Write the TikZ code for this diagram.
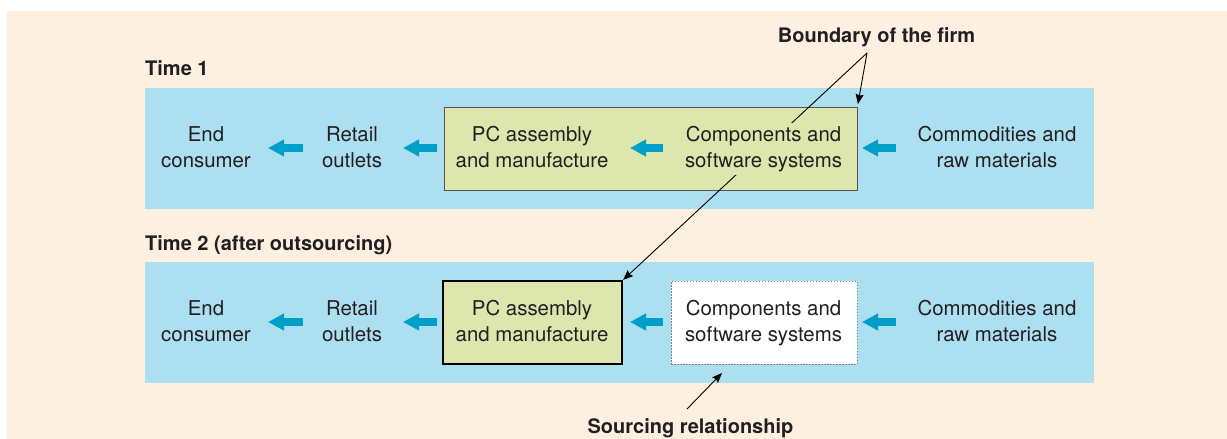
\documentclass[tikz,border=0pt]{standalone}
\usepackage{fontspec}
\setmainfont{TeX Gyre Heros}
\usetikzlibrary{arrows.meta,calc}
\definecolor{bgbeige}{RGB}{253,240,224}
\definecolor{bandblue}{RGB}{172,223,240}
\definecolor{boxgreen}{RGB}{221,231,173}
\definecolor{arrowblue}{RGB}{0,159,201}
\definecolor{txt}{RGB}{35,31,32}
\definecolor{boxline}{RGB}{85,85,85}
\newcommand\twoline[2]{\strut #1\\\strut #2}
\begin{document}
\begin{tikzpicture}[x=1pt,y=-1pt,
  lbl/.style={font=\fontsize{20.4}{26}\selectfont, align=center, inner sep=0pt, text=txt},
  ttl/.style={font=\fontsize{20}{24}\selectfont\bfseries, inner sep=0pt, text=txt},
  band/.style={fill=bandblue, draw=none, inner sep=0pt, minimum width=949pt, minimum height=121pt},
  firmbox/.style={fill=boxgreen, draw=boxline, line width=0.9pt, inner sep=0pt, minimum height=83pt},
  pcbox/.style={fill=boxgreen, draw=black, line width=1.5pt, inner sep=0pt, minimum width=179pt, minimum height=83pt},
  srcbox/.style={fill=white, draw=gray, line width=1pt, dash pattern=on 1.5pt off 1.5pt, inner sep=0pt, minimum width=186pt, minimum height=83pt},
  barrow/.style={draw=arrowblue, line width=7.5pt, -{Triangle[length=16pt,width=16pt]}, arrowblue},
  leader/.style={draw=black, line width=0.9pt, -{Stealth[length=10pt,width=8pt,inset=1.5pt]}}
]
\useasboundingbox (0,0) rectangle (1227,439);
\fill[bgbeige] (7,11) rectangle (1227,439);

% bands
\node[band] (band1) at (619.5,148.5) {};
\node[band] (band2) at (619.5,322.5) {};

% boxes
\node[firmbox, minimum width=413pt] (firm1) at (650.5,148.5) {};
\node[pcbox] (pc2box) at (532.5,322.5) {};
\node[srcbox] (comp2box) at (764,322.5) {};

% leader lines
\coordinate (bf) at (867,53);
\coordinate (sr) at (687,409);
\coordinate (srt) at (722,373);
\draw[leader, shorten >=2.5pt] (bf) -- (firm1.north east);
\draw[leader, shorten >=0.5pt] (bf) -- (pc2box.north east);
\draw[leader] (sr) -- (srt);

% texts time 1
\node[lbl] (end1) at (206,148.8) {\twoline{End}{consumer}};
\node[lbl] (ret1) at (352,148.8) {\twoline{Retail}{outlets}};
\node[lbl] (pc1) at (532,148.8) {\twoline{PC assembly}{and manufacture}};
\node[lbl, fill=boxgreen] (comp1) at (763.5,148.8) {\twoline{Components and}{software systems}};
\node[lbl] (raw1) at (997,148.8) {\twoline{Commodities and}{raw materials}};

% texts time 2
\node[lbl] (end2) at (206,322.8) {\twoline{End}{consumer}};
\node[lbl] (ret2) at (352,322.8) {\twoline{Retail}{outlets}};
\node[lbl] (pc2) at (532,322.8) {\twoline{PC assembly}{and manufacture}};
\node[lbl] (comp2) at (763.5,322.8) {\twoline{Components and}{software systems}};
\node[lbl] (raw2) at (997,322.8) {\twoline{Commodities and}{raw materials}};

% titles
\node[ttl, anchor=base west] (t1) at (145,75) {Time 1};
\node[ttl, anchor=base west] (t2) at (145,250) {Time 2 (after outsourcing)};
\node[ttl, anchor=base] (bnd) at (876.5,42) {Boundary of the firm};
\node[ttl, anchor=base] (src) at (690.5,433) {Sourcing relationship};

% blue flow arrows
\foreach \r/\y in {a/148, b/322} {
  \coordinate (\r1s) at (303,\y); \coordinate (\r1e) at (268,\y);
  \coordinate (\r2s) at (437,\y); \coordinate (\r2e) at (403,\y);
  \coordinate (\r3s) at (663,\y); \coordinate (\r3e) at (630,\y);
  \coordinate (\r4s) at (896,\y); \coordinate (\r4e) at (862,\y);
  \draw[barrow] (\r1s) -- (\r1e);
  \draw[barrow] (\r2s) -- (\r2e);
  \draw[barrow] (\r3s) -- (\r3e);
  \draw[barrow] (\r4s) -- (\r4e);
}
\end{tikzpicture}
\end{document}
